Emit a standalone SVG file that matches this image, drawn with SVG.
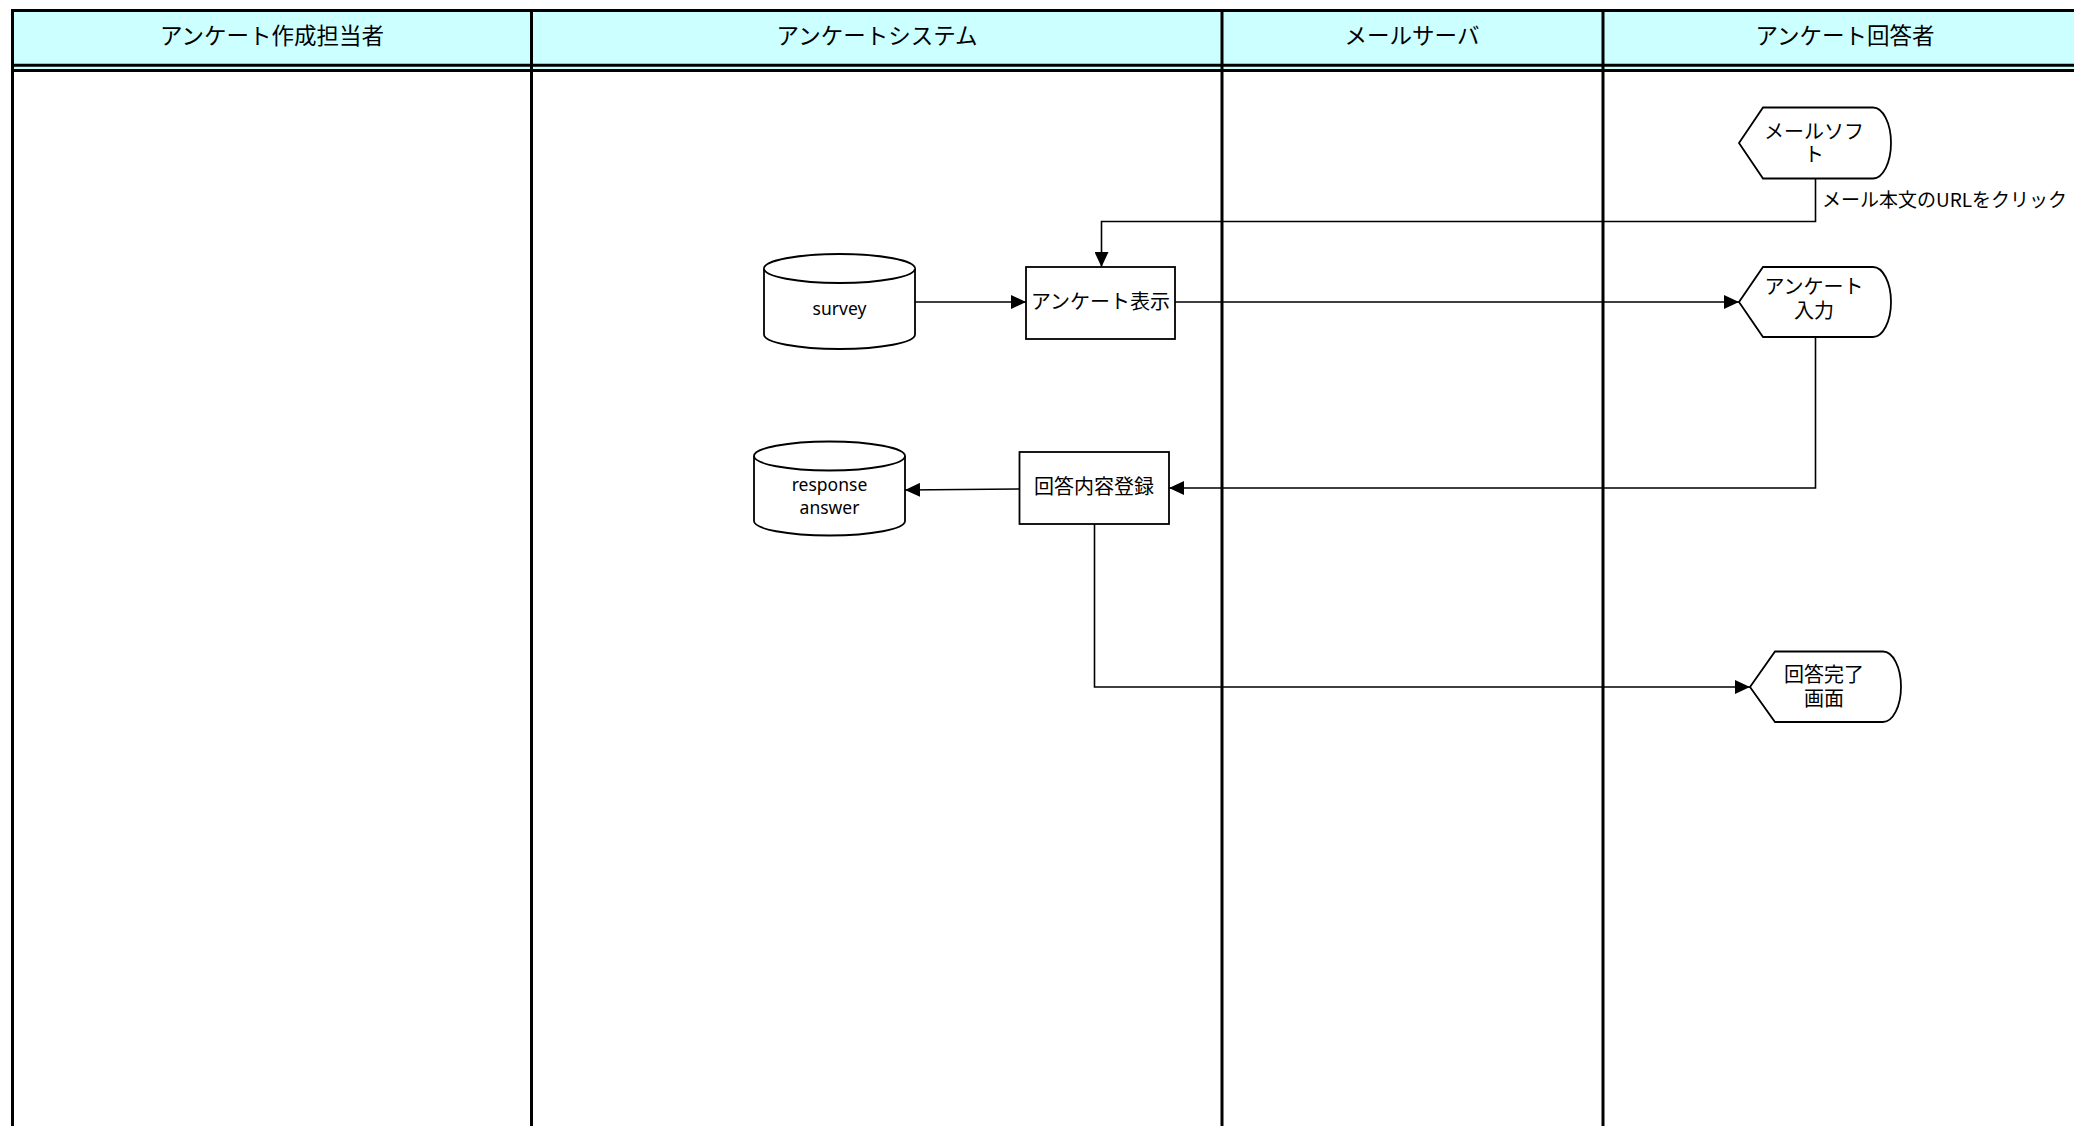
<svg xmlns="http://www.w3.org/2000/svg" width="2074" height="1126" viewBox="0 0 2074 1126">
<style>
.lane{stroke:#000;stroke-width:3;fill:none}
.hdr{font-family:"Noto Sans CJK JP","Noto Sans",sans-serif;font-size:22.5px;fill:#000;text-anchor:middle;dominant-baseline:central}
.shape{fill:#fff;stroke:#000;stroke-width:1.8}
.t{font-family:"Noto Sans CJK JP","Noto Sans",sans-serif;font-size:20px;fill:#000;text-anchor:middle;dominant-baseline:central}
.tdb{font-family:"Noto Sans","Noto Sans CJK JP",sans-serif;font-size:17.5px;fill:#000;text-anchor:middle;dominant-baseline:central}
.edge{fill:none;stroke:#000;stroke-width:1.6}
.lbl{font-family:"Noto Sans CJK JP","Noto Sans",sans-serif;font-size:19px;fill:#000;dominant-baseline:central}
</style>
<defs>
<marker id="arr" markerUnits="userSpaceOnUse" markerWidth="16" markerHeight="14" refX="15" refY="7" orient="auto">
<path d="M0,0 L15,7 L0,14 Z" fill="#000"/>
</marker>
</defs>
<rect width="2074" height="1126" fill="#fff"/>
<g id="lanes">
<rect x="12" y="10.5" width="2070" height="60" fill="#CCFFFF"/>
<line class="lane" x1="11" y1="10.5" x2="2074" y2="10.5"/>
<line class="lane" x1="11" y1="65.2" x2="2074" y2="65.2"/>
<line class="lane" x1="11" y1="70.5" x2="2074" y2="70.5"/>
<line class="lane" x1="12.5" y1="9" x2="12.5" y2="1126"/>
<line class="lane" x1="531.5" y1="9" x2="531.5" y2="1126"/>
<line class="lane" x1="1222" y1="9" x2="1222" y2="1126"/>
<line class="lane" x1="1603" y1="9" x2="1603" y2="1126"/>
<text class="hdr" x="272" y="34">アンケート作成担当者</text>
<text class="hdr" x="877" y="34">アンケートシステム</text>
<text class="hdr" x="1412" y="34">メールサーバ</text>
<text class="hdr" x="1845" y="34">アンケート回答者</text>
</g>
<g id="connectors">
<path class="edge" d="M1815.5,178.5 V221.5 H1101.5 V267" marker-end="url(#arr)"/>
<text class="lbl" x="1822" y="198.5">メール本文のURLをクリック</text>
<path class="edge" d="M915,302 H1026" marker-end="url(#arr)"/>
<path class="edge" d="M1175,302 H1739" marker-end="url(#arr)"/>
<path class="edge" d="M1815.5,337 V488 H1169" marker-end="url(#arr)"/>
<path class="edge" d="M1019.5,489 L905,490" marker-end="url(#arr)"/>
<path class="edge" d="M1094.5,524 V687 H1750" marker-end="url(#arr)"/>
</g>
<g id="mailsoft">
<path class="shape" d="M1739,143 L1763,107.5 L1873,107.5 A18,35.5 0 0 1 1873,178.5 L1763,178.5 Z"/>
<text class="t"><tspan x="1814" y="129.5">メールソフ</tspan><tspan x="1814" y="153">ト</tspan></text>
</g>
<g id="survey">
<path class="shape" d="M764,268.5 A75.5,14.5 0 0 1 915,268.5 V334.5 A75.5,14.5 0 0 1 764,334.5 Z"/>
<path class="shape" fill="none" d="M764,268.5 A75.5,14.5 0 0 0 915,268.5"/>
<text class="tdb" x="839.5" y="308">survey</text>
</g>
<g id="survey-display">
<rect class="shape" x="1026" y="267" width="149" height="72"/>
<text class="t" x="1100.5" y="300.5">アンケート表示</text>
</g>
<g id="survey-input">
<path class="shape" d="M1739,302 L1763,267 L1873,267 A18,35 0 0 1 1873,337 L1763,337 Z"/>
<text class="t"><tspan x="1814" y="285">アンケート</tspan><tspan x="1814" y="309">入力</tspan></text>
</g>
<g id="response">
<path class="shape" d="M754,456 A75.5,14.5 0 0 1 905,456 V521 A75.5,14.5 0 0 1 754,521 Z"/>
<path class="shape" fill="none" d="M754,456 A75.5,14.5 0 0 0 905,456"/>
<text class="tdb"><tspan x="829.5" y="484">response</tspan><tspan x="829.5" y="507">answer</tspan></text>
</g>
<g id="register">
<rect class="shape" x="1019.5" y="452" width="149.5" height="72"/>
<text class="t" x="1094" y="485.5">回答内容登録</text>
</g>
<g id="complete">
<path class="shape" d="M1750,687 L1775,651.5 L1883,651.5 A18,35.25 0 0 1 1883,722 L1775,722 Z"/>
<text class="t"><tspan x="1824" y="673">回答完了</tspan><tspan x="1824" y="697">画面</tspan></text>
</g>
</svg>
